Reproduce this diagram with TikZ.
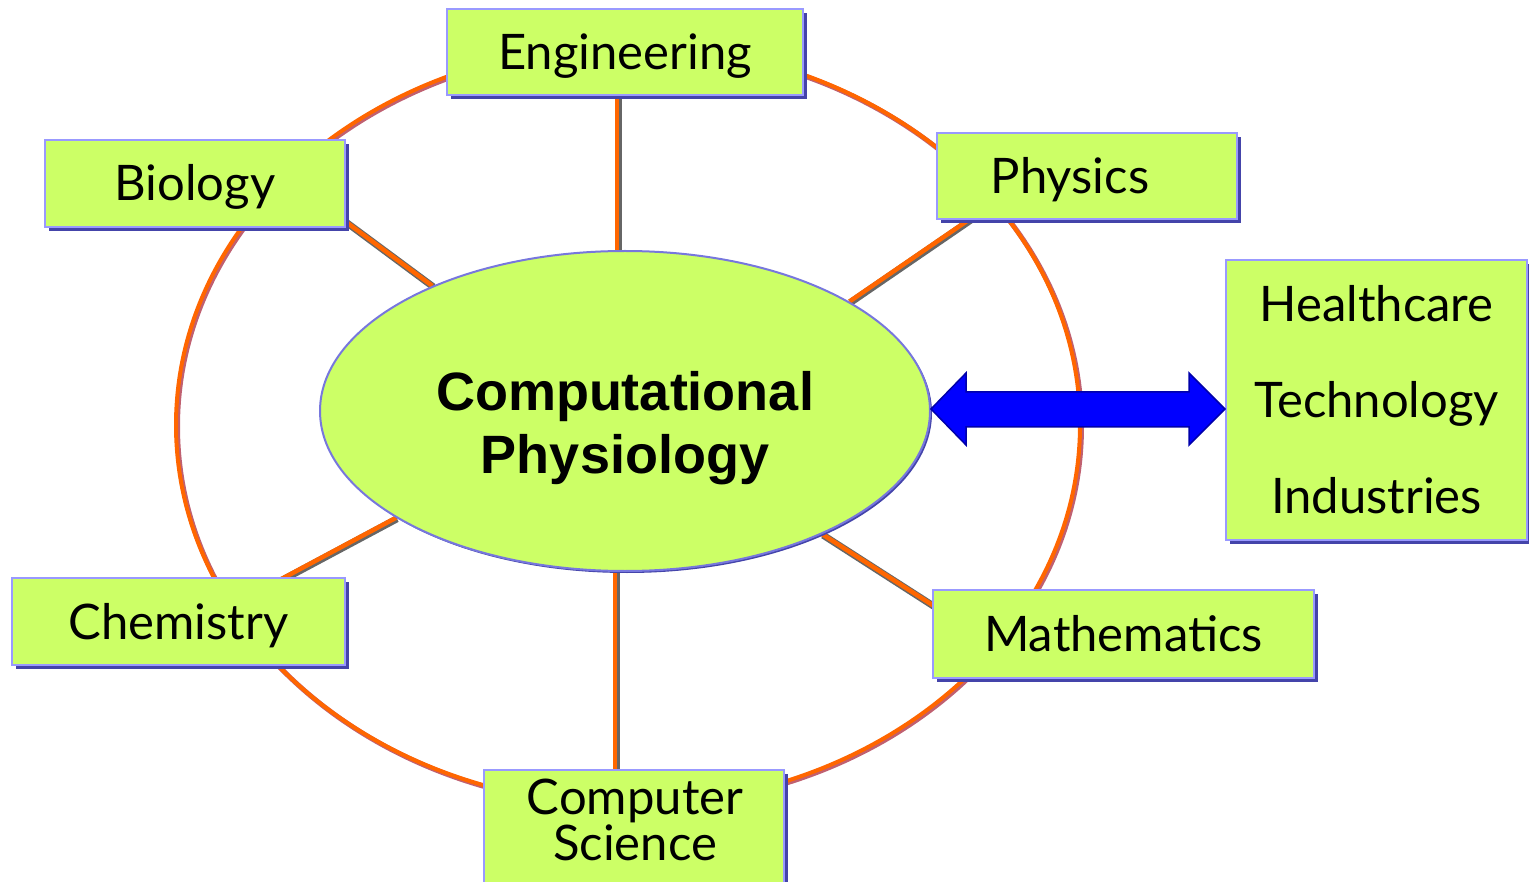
\documentclass[tikz,border=0pt]{standalone}
\usepackage{fontspec}
\setmainfont{Lato}
\newfontfamily\boldsans{Liberation Sans}
\usetikzlibrary{shapes.geometric,shadows,calc}
\pgfdeclarelayer{background}
\pgfsetlayers{background,main}
\definecolor{boxgreen}{HTML}{CCFF66}
\definecolor{boxborder}{HTML}{9999FF}
\definecolor{boxshadow}{HTML}{4444AA}
\definecolor{ringorange}{HTML}{FF6600}
\definecolor{ringshade}{HTML}{C06070}
\definecolor{lineshade}{HTML}{666666}
\definecolor{cpborder}{HTML}{7777DD}
\definecolor{arrowblue}{HTML}{0000FF}
\definecolor{arrowedge}{HTML}{0000AA}
\tikzset{
  box/.style={rectangle, draw=boxborder, line width=2, fill=boxgreen, inner sep=0pt,
    drop shadow={shadow xshift=4pt, shadow yshift=-4pt, fill=boxshadow, opacity=1}},
  lbl/.style={font=\fontsize{49}{58}\selectfont, text=black},
  one/.style={text height=35pt, text depth=0pt},
  conn/.style={draw=ringorange, line width=4.5,
    preaction={draw=lineshade, line width=7, transform canvas={shift={(1,1)}}}},
  ringst/.style={ellipse, draw=ringorange, line width=4, minimum width=904, minimum height=760, inner sep=0pt},
  cpst/.style={ellipse, draw=cpborder, line width=2, fill=boxgreen, minimum width=610, minimum height=320, inner sep=0pt,
    drop shadow={shadow xshift=2pt, shadow yshift=-2pt, fill=boxshadow, opacity=1}},
  cptextst/.style={align=center, font=\boldsans\bfseries\fontsize{54}{63}\selectfont},
  bigarrow/.style={fill=arrowblue, draw=arrowedge, line width=1.5}
}
\begin{document}
\begin{tikzpicture}[x=1pt,y=-1pt]
\useasboundingbox (0,0) rectangle (1529,882);
% outer ring
\node[ringst] (ring) at (628,425) {};
% central ellipse
\node[cpst] (cp) at (625,411) {};
\node[cptextst] (cptext) at (625,428) {Computational\\Physiology};
% boxes
\node[box, minimum width=356, minimum height=86, lbl, one] (eng) at (625,52) {Engineering};
\node[box, minimum width=300, minimum height=87, lbl, one] (bio) at (195,183.5) {Biology};
\node[box, minimum width=300, minimum height=86, lbl, one] (phy) at (1087,176) {Physics\hspace*{34pt}};
\node[box, minimum width=333, minimum height=87, lbl, one] (chem) at (178.5,621.5) {Chemistry};
\node[box, minimum width=381, minimum height=88, lbl, one] (math) at (1123.5,634) {Mathematics};
\node[box, minimum width=300, minimum height=130] (cs) at (634,835) {};
\node[lbl, align=center, font=\fontsize{49}{43}\selectfont] (cstext) at (635,820) {Computer\\Science};
\node[box, minimum width=301, minimum height=280, lbl, align=center, font=\fontsize{49}{96}\selectfont] (ind) at (1376.5,400) {Healthcare\\Technology\\Industries};
% connectors
\begin{pgfonlayer}{background}
\draw[ringshade, line width=5] (629.5,426.5) ellipse [x radius=452, y radius=380];
\draw[conn] ([xshift=-8]eng.south) -- ([xshift=-8]cp.north);
\draw[conn] ([xshift=-10]cp.south) -- ([xshift=-19]cs.north);
\draw[conn] (cp.147) -- ([shift={(-10,31)}]bio.east);
\draw[conn] (cp.26) -- ([shift={(-104,-10)}]phy.south);
\draw[conn] (cp.205) -- ([shift={(88,10)}]chem.north);
\draw[conn] (cp.328) -- ([shift={(16,-19)}]math.west);
\end{pgfonlayer}
% double arrow
\coordinate (arL) at ([yshift=2]cp.east);
\coordinate (arR) at (arL -| ind.west);
\draw[bigarrow] (arL) -- ++(35,-36) -- ++(0,19) -- ($(arR)+(-36,-17)$) -- ++(0,-19) -- (arR) -- ++(-36,36) -- ++(0,-18) -- ($(arL)+(35,18)$) -- ++(0,18) -- cycle;
\end{tikzpicture}
\end{document}
